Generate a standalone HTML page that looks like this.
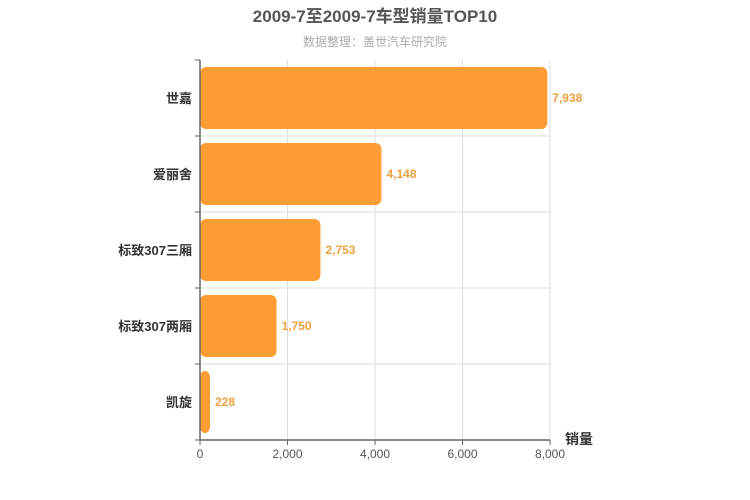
<!DOCTYPE html>
<html><head><meta charset="utf-8"><style>body{margin:0;background:#fff}svg{display:block;font-family:"Liberation Sans","Noto Sans CJK SC",sans-serif}</style></head>
<body>
<svg id="c" width="750" height="500">
<text x="375" y="22" text-anchor="middle" font-size="17" font-weight="bold" fill="#555">2009-7至2009-7车型销量TOP10</text>
<text x="375" y="46" text-anchor="middle" font-size="12" fill="#aaa">数据整理：盖世汽车研究院</text>
<g id="g"></g>
</svg>
<script>
const categories=["世嘉","爱丽舍","标致307三厢","标致307两厢","凯旋"];
const values=[7938,4148,2753,1750,228];
const ticks=[0,2000,4000,6000,8000];
const x0=200,x1=550,y0=60,y1=440,max=8000;
const xs=v=>x0+(v/max)*(x1-x0);
const band=(y1-y0)/categories.length;
const g=document.getElementById('g');const NS='http://www.w3.org/2000/svg';
function mk(t,a,txt){const e=document.createElementNS(NS,t);for(const k in a)e.setAttribute(k,a[k]);if(txt!=null)e.textContent=txt;g.appendChild(e);return e;}
ticks.forEach((t,i)=>{
 if(i>0){const l=mk('line',{x1:xs(t),x2:xs(t),y1:y0,y2:y1,stroke:'#ddd'});
 }
 const tx=mk('text',{x:xs(t),y:y1+18,'text-anchor':'middle','font-size':12,fill:'#555'},t.toLocaleString('en-US'));
 
 const tk=mk('line',{x1:xs(t),x2:xs(t),y1:y1,y2:y1+5,stroke:'#666'});
 
});
for(let i=0;i<=categories.length;i++){const y=y0+i*band;
 if(i>0&&i<categories.length){const l=mk('line',{x1:x0,x2:x1,y1:y,y2:y,stroke:'#ddd'});
 }
 const tk=mk('line',{x1:x0-5,x2:x0,y1:y,y2:y,stroke:'#666'});
 }
categories.forEach((c,i)=>{
 const yt=y0+i*band+7,h=band-14,w=xs(values[i])-x0;
 const r=mk('rect',{x:x0,y:yt,width:w,height:h,rx:6,fill:'#ff9c33'});
 
 const lb=mk('text',{x:xs(values[i])+5,y:yt+h/2+4,'font-size':12,'font-weight':'bold',fill:'#f0a040'},values[i].toLocaleString('en-US'));
 
 const cl=mk('text',{x:x0-8,y:yt+h/2+5,'text-anchor':'end','font-size':13,'font-weight':'bold',fill:'#333'},c);
 
});
const ax=mk('line',{x1:x0,x2:x1,y1:y1,y2:y1,stroke:'#666','stroke-width':1.5});

const ay=mk('line',{x1:x0,x2:x0,y1:y0,y2:y1,stroke:'#666','stroke-width':1.5});

const at=mk('text',{x:565,y:444,'font-size':14,'font-weight':'bold',fill:'#333'},'销量');

</script>
</body></html>
